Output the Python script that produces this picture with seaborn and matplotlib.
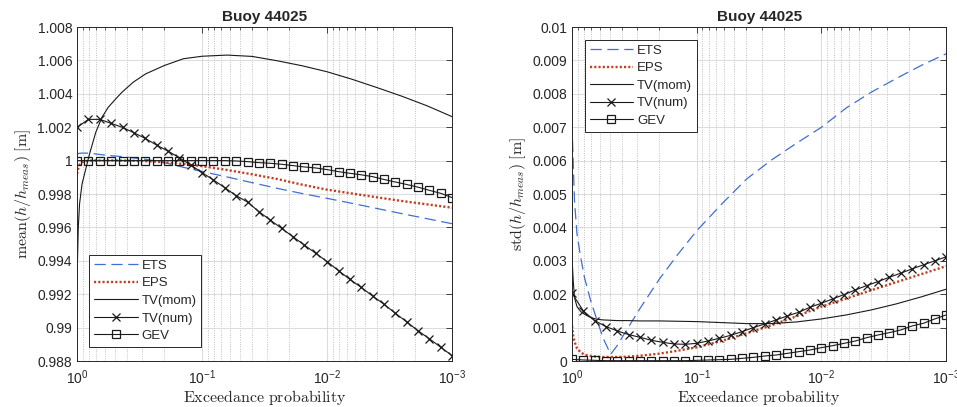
import numpy as np
import pandas as pd
import matplotlib
matplotlib.use("Agg")
import matplotlib.pyplot as plt
import seaborn as sns
from matplotlib.ticker import LogLocator, NullFormatter, FixedLocator, FixedFormatter

# ---------------------------------------------------------------------------
# Sampling of the exceedance probability, written as decades below 1 (p = 10^-d)
# ---------------------------------------------------------------------------
marker_decades = np.arange(34) / 11.0          # 11 samples per decade, 1 ... 1e-3
curve_decades = [0, 0.01, 0.02, 0.04, 0.07, 0.1, 0.15, 0.2, 0.25, 0.31, 0.36,
                 0.45, 0.55, 0.7, 0.85, 1.0, 1.2, 1.4, 1.6, 1.8, 2.0, 2.2,
                 2.4, 2.6, 2.8, 3.0]

# ----------------------------- mean(h / h_meas) -----------------------------
mean_ets = [1.00038, 1.00042, 1.00044, 1.00045, 1.00045, 1.00044, 1.00040,
            1.00035, 1.00031, 1.00027, 1.00024, 1.00017, 1.00008, 0.99988,
            0.99960, 0.99935, 0.99902, 0.99868, 0.99834, 0.99803, 0.99774,
            0.99744, 0.99713, 0.99682, 0.99652, 0.99622]
mean_eps = [0.99920, 0.99955, 0.99975, 0.99990, 0.99997, 1.00000, 1.00001,
            1.00001, 1.00001, 1.00001, 1.00000, 0.99999, 0.99997, 0.99990,
            0.99980, 0.99967, 0.99944, 0.99918, 0.99890, 0.99856, 0.99826,
            0.99803, 0.99780, 0.99758, 0.99738, 0.99718]
mean_tv_mom = [0.9928, 0.9960, 0.9974, 0.9986, 0.9995, 1.0004, 1.0017, 1.0026,
               1.0032, 1.0037, 1.0041, 1.0047, 1.0052, 1.0057, 1.0061, 1.00625,
               1.00632, 1.00624, 1.00598, 1.00568, 1.00532, 1.00487, 1.00437,
               1.00385, 1.00328, 1.00263]
mean_tv_num = [1.00199, 1.00247, 1.00247, 1.00223, 1.00199, 1.00167, 1.00133,
               1.00093, 1.00057, 1.00017, 0.99974, 0.99928, 0.99884, 0.99838,
               0.99790, 0.99752, 0.99694, 0.99644, 0.99594, 0.99544, 0.99494,
               0.99445, 0.99395, 0.99341, 0.99289, 0.99241, 0.99189, 0.99140,
               0.99086, 0.99034, 0.98981, 0.98933, 0.98882, 0.98832]
mean_gev = [1.00000, 1.00000, 1.00000, 1.00000, 1.00000, 1.00000, 1.00000,
            1.00000, 1.00000, 1.00000, 1.00000, 1.00000, 1.00000, 1.00000,
            0.99998, 0.99994, 0.99988, 0.99984, 0.99978, 0.99970, 0.99962,
            0.99956, 0.99946, 0.99934, 0.99924, 0.99915, 0.99904, 0.99887,
            0.99872, 0.99857, 0.99841, 0.99822, 0.99804, 0.99778]

# ----------------------------- std(h / h_meas) ------------------------------
std_ets = [0.0071, 0.0059, 0.0048, 0.0038, 0.0031, 0.0025, 0.0018, 0.00123,
           0.00068, 0.0002, 0.00045, 0.00100, 0.00160, 0.00245, 0.00320,
           0.0039, 0.0047, 0.00545, 0.00602, 0.00652, 0.0070, 0.00758,
           0.00805, 0.00846, 0.00885, 0.0092]
std_eps = [0.00105, 0.00075, 0.00058, 0.00038, 0.00026, 0.00019, 0.00015,
           0.00013, 0.00012, 0.00012, 0.00012, 0.00013, 0.00016, 0.00022,
           0.00031, 0.00041, 0.00060, 0.00083, 0.00107, 0.00134, 0.00163,
           0.00187, 0.00212, 0.00236, 0.00260, 0.00284]
std_tv_mom = [0.0031, 0.0024, 0.0019, 0.00163, 0.00148, 0.0014, 0.0013,
              0.00125, 0.00123, 0.00122, 0.00121, 0.00121, 0.0012, 0.0012,
              0.00119, 0.00118, 0.00115, 0.00112, 0.00112, 0.00117, 0.00126,
              0.00138, 0.00153, 0.00171, 0.00192, 0.00215]
std_tv_num = [0.00203, 0.00150, 0.00121, 0.00103, 0.00090, 0.00079, 0.00071,
              0.00062, 0.00056, 0.00051, 0.00050, 0.00053, 0.00060, 0.00068,
              0.00077, 0.00088, 0.00100, 0.00111, 0.00123, 0.00135, 0.00146,
              0.00161, 0.00173, 0.00186, 0.00199, 0.00213, 0.00226, 0.00238,
              0.00251, 0.00263, 0.00276, 0.00288, 0.00300, 0.00312]
std_gev = [0.00005, 0.00003, 0.00002, 0.00001, 0.00001, 0.00001, 0.00001,
           0.00001, 0.00001, 0.00001, 0.00001, 0.00002, 0.00003, 0.00004,
           0.00005, 0.00008, 0.00011, 0.00015, 0.00018, 0.00023, 0.00028,
           0.00033, 0.00040, 0.00046, 0.00053, 0.00060, 0.00070, 0.00078,
           0.00085, 0.00093, 0.00105, 0.00113, 0.00126, 0.00138]

# ------------------------------- axis texts ---------------------------------
title_text = "Buoy 44025"
x_label = r"$\mathrm{Exceedance\ probability}$"
mean_label = r"$\mathrm{mean}(h/h_{meas})\ [\mathrm{m}]$"
std_label = r"$\mathrm{std}(h/h_{meas})\ [\mathrm{m}]$"
series_names = ["ETS", "EPS", "TV(mom)", "TV(num)", "GEV"]
mean_ticks = [0.988, 0.990, 0.992, 0.994, 0.996, 0.998, 1.000, 1.002, 1.004, 1.006, 1.008]
mean_tick_labels = ["0.988", "0.99", "0.992", "0.994", "0.996", "0.998", "1",
                    "1.002", "1.004", "1.006", "1.008"]
std_ticks = [0.000, 0.001, 0.002, 0.003, 0.004, 0.005, 0.006, 0.007, 0.008, 0.009, 0.010]
std_tick_labels = ["0", "0.001", "0.002", "0.003", "0.004", "0.005", "0.006",
                   "0.007", "0.008", "0.009", "0.01"]

# --------------------------------- style ------------------------------------
sns.set_theme(style="white")
plt.rcParams["font.family"] = ["Liberation Sans", "DejaVu Sans"]
plt.rcParams["mathtext.fontset"] = "cm"
plt.rcParams["axes.edgecolor"] = "#262626"
plt.rcParams["axes.linewidth"] = 0.7
plt.rcParams["xtick.color"] = "#262626"
plt.rcParams["ytick.color"] = "#262626"

ETS_COLOR = "#3f6fd1"
EPS_COLOR = "#c2401f"
INK = "#1a1a1a"

curve_p = 10.0 ** (-np.asarray(curve_decades))
marker_p = 10.0 ** (-marker_decades)

fig = plt.figure(figsize=(9.57, 4.07), dpi=100)
ax_mean = fig.add_axes([0.0805, 0.113, 0.392, 0.8206])
ax_std = fig.add_axes([0.5977, 0.113, 0.391, 0.8206])


def draw_panel(ax, ets, eps, tv_mom, tv_num, gev):
    ax.set_xscale("log")
    sns.lineplot(x=curve_p, y=ets, ax=ax, sort=False, estimator=None,
                 color=ETS_COLOR, linewidth=0.9, linestyle=(0, (9, 4.5)),
                 label=series_names[0])
    sns.lineplot(x=curve_p, y=eps, ax=ax, sort=False, estimator=None,
                 color=EPS_COLOR, linewidth=1.7, linestyle=(0, (0.9, 0.9)),
                 label=series_names[1])
    sns.lineplot(x=curve_p, y=tv_mom, ax=ax, sort=False, estimator=None,
                 color=INK, linewidth=0.8, label=series_names[2])
    sns.lineplot(x=marker_p, y=tv_num, ax=ax, sort=False, estimator=None,
                 color=INK, linewidth=0.8, marker="x", markersize=5.5,
                 markeredgewidth=0.9, markeredgecolor=INK,
                 label=series_names[3])
    sns.lineplot(x=marker_p, y=gev, ax=ax, sort=False, estimator=None,
                 color=INK, linewidth=0.8, marker="s", markersize=5.2,
                 markeredgewidth=0.9, markeredgecolor=INK,
                 markerfacecolor="none", label=series_names[4])

    ax.set_xlim(1, 1e-3)
    ax.xaxis.set_major_locator(LogLocator(base=10, numticks=10))
    ax.xaxis.set_minor_locator(LogLocator(base=10, subs=np.arange(2, 10), numticks=10))
    ax.xaxis.set_minor_formatter(NullFormatter())
    ax.grid(True, which="major", axis="both", color="#d6d6d6", linewidth=0.6,
            linestyle="-")
    ax.grid(True, which="minor", axis="x", color="#ababab", linewidth=0.6,
            linestyle=(0, (1, 1.8)))
    ax.set_axisbelow(True)
    ax.tick_params(which="both", direction="in", top=True, right=True,
                   labelsize=10)
    ax.tick_params(axis="x", which="major", pad=5)
    ax.tick_params(which="major", length=4, width=0.6)
    ax.tick_params(which="minor", length=2.2, width=0.5)
    for s in ax.spines.values():
        s.set_visible(True)
        s.set_color("#262626")
    ax.set_title(title_text, fontsize=11, fontweight="bold", pad=4)
    ax.set_xlabel(x_label, fontsize=11.5, color="#262626", labelpad=1)


draw_panel(ax_mean, mean_ets, mean_eps, mean_tv_mom, mean_tv_num, mean_gev)
draw_panel(ax_std, std_ets, std_eps, std_tv_mom, std_tv_num, std_gev)

ax_mean.set_ylim(0.988, 1.008)
ax_mean.yaxis.set_major_locator(FixedLocator(mean_ticks))
ax_mean.yaxis.set_major_formatter(FixedFormatter(mean_tick_labels))
ax_mean.set_ylabel(mean_label, fontsize=11.5, color="#262626", labelpad=3)

ax_std.set_ylim(0.0, 0.010)
ax_std.yaxis.set_major_locator(FixedLocator(std_ticks))
ax_std.yaxis.set_major_formatter(FixedFormatter(std_tick_labels))
ax_std.set_ylabel(std_label, fontsize=11.5, color="#262626", labelpad=3)

legend_kw = dict(fontsize=9.5, frameon=True, fancybox=False, framealpha=1,
                 edgecolor="#262626", handlelength=3.3, handletextpad=0.3,
                 labelspacing=0.4, borderpad=0.35, borderaxespad=0)
leg1 = ax_mean.legend(loc="lower left", bbox_to_anchor=(0.033, 0.043), **legend_kw)
leg2 = ax_std.legend(loc="upper left", bbox_to_anchor=(0.035, 0.961), **legend_kw)
for leg in (leg1, leg2):
    leg.get_frame().set_linewidth(0.7)

fig.savefig("out.png", dpi=100, facecolor="white")
